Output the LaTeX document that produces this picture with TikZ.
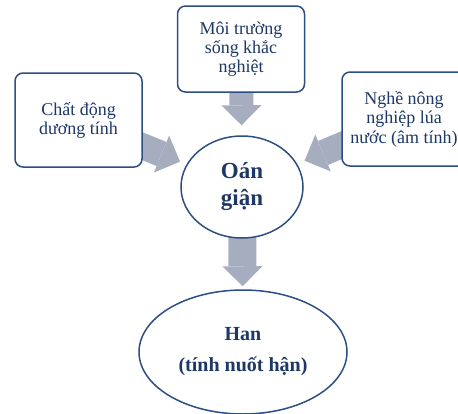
\documentclass[tikz,border=0pt]{standalone}
\usepackage{fontspec}
\setmainfont{Liberation Serif}
\usepackage{xcolor}
\usetikzlibrary{arrows.meta}
\usetikzlibrary{shapes.geometric}
\usetikzlibrary{backgrounds}
\definecolor{figtextblue}{RGB}{30,56,102}
\definecolor{figlineblue}{RGB}{44,78,130}
\definecolor{figarrowgray}{RGB}{166,173,191}
\tikzset{
    causebox/.style={draw=figlineblue, line width=1.5pt, rounded corners=8pt, fill=white,
        text=figtextblue, align=center, inner sep=0pt, font=\fontsize{18}{19}\selectfont},
    feelnode/.style={ellipse, draw=figlineblue, line width=1.5pt, fill=white,
        text=figtextblue, align=center, inner sep=0pt},
    blockarrow/.style={figarrowgray, line width=26pt,
        -{Triangle[length=20pt,width=40pt,line width=0pt]}}
}
\begin{document}
\begin{tikzpicture}[x=1pt,y=-1pt]
        \newcommand{\figcausewidth}{127pt}
        \newcommand{\figcauseheight}{94pt}
        \useasboundingbox (0,0) rectangle (458,413);
        \clip (0,0) rectangle (458,413);
        \node[causebox, minimum width=\figcausewidth, minimum height=\figcauseheight] (chatdong) at (78.5,120) {Chất động\\dương tính};
        \node[causebox, minimum width=\figcausewidth, minimum height=86pt] (moitruong) at (241,49) {Môi trường\\sống khắc\\nghiệt};
        \node[causebox, minimum width=124pt, minimum height=\figcauseheight, font=\fontsize{18}{19.5}\selectfont] (nghenong) at (404,119) {Nghề nông\\nghiệp lúa\\nước (âm tính)};
        \node[feelnode, minimum width=122pt, minimum height=102pt, font=\bfseries\fontsize{23}{27}\selectfont] (oangian) at (242,187) {Oán\\giận};
        \node[feelnode, minimum width=208pt, minimum height=124pt, font=\bfseries\fontsize{20}{31}\selectfont] (han) at (243,352) {Han\\(tính nuốt hận)};
        \begin{scope}[on background layer]
            \draw[blockarrow, shorten >=7pt] (chatdong.center) -- (oangian);
            \draw[blockarrow, shorten >=8pt] (nghenong.center) -- (oangian);
            \draw[blockarrow, line width=24pt, shorten >=10pt] (moitruong.center) -- (oangian);
            \draw[blockarrow, line width=28pt, shorten >=3pt] (oangian.center) -- (han);
        \end{scope}
    \end{tikzpicture}
\end{document}
